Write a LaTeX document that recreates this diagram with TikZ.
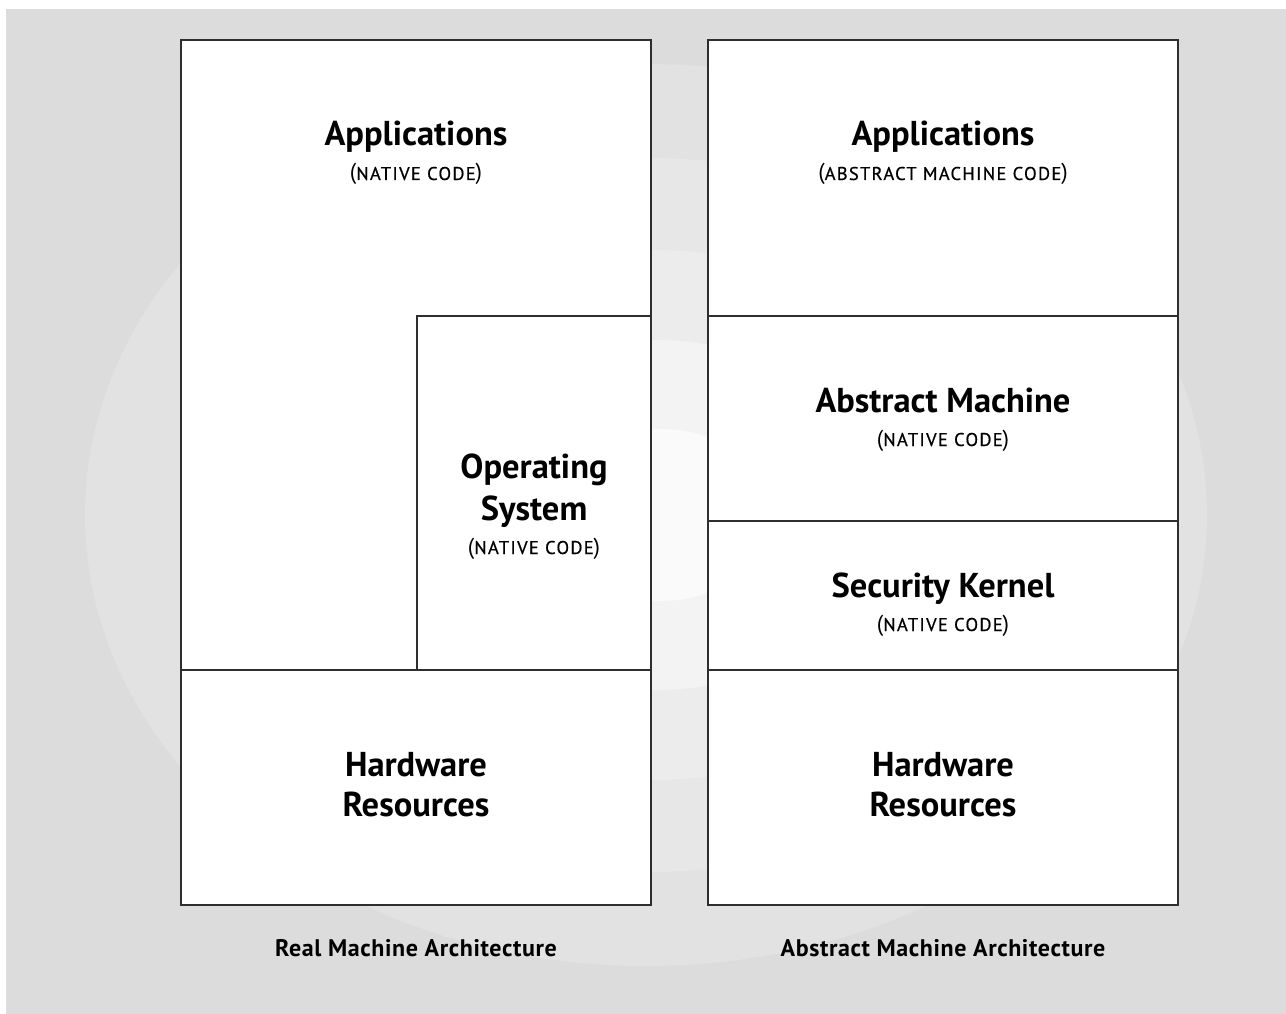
\documentclass[tikz,border=0pt]{standalone}
\usepackage{fontspec}
\setmainfont{PT Sans}
\definecolor{bgbase}{HTML}{DCDCDC}
\definecolor{ringA}{HTML}{E2E2E2}
\definecolor{ringB}{HTML}{E7E7E7}
\definecolor{ringC}{HTML}{ECECEC}
\definecolor{ringD}{HTML}{F3F3F3}
\definecolor{ringE}{HTML}{FAFAFA}
\definecolor{framecol}{HTML}{2E2E2E}
\newcommand{\subcap}[1]{{\fontsize{23}{24}\selectfont(}{\fontsize{18.5}{20}\selectfont\addfontfeatures{LetterSpace=7,FakeBold=0.6}#1}{\fontsize{23}{24}\selectfont)}}
\begin{document}
\begin{tikzpicture}[x=1pt,y=-1pt,
  frame/.style={draw=framecol,line width=1.6pt,fill=white},
  divider/.style={draw=framecol,line width=1.6pt},
  titletext/.style={anchor=base,inner sep=0pt,font=\fontsize{34.5}{40}\selectfont\bfseries},
  subtext/.style={anchor=base,inner sep=0pt},
  captext/.style={anchor=base,inner sep=0pt,font=\fontsize{24}{28}\selectfont\bfseries\addfontfeatures{LetterSpace=2.5}}]
\useasboundingbox (0,0) rectangle (1286,1014);
\fill[white] (0,0) rectangle (1286,1014);
\fill[bgbase] (6,9) rectangle (1286,1014);
\begin{scope}
  \clip (6,9) rectangle (1286,1014);
  \fill[ringA] (646,515) ellipse [x radius=561, y radius=451];
  \fill[ringB] (650,515) ellipse [x radius=444, y radius=357];
  \fill[ringC] (654,515) ellipse [x radius=330, y radius=265];
  \fill[ringD] (658,515) ellipse [x radius=218, y radius=175];
  \fill[ringE] (662,515) ellipse [x radius=107, y radius=86];
\end{scope}
% left column
\draw[frame] (181,40) rectangle (651,905);
\coordinate (lhwl) at (181,670);
\coordinate (lhwr) at (651,670);
\coordinate (osb) at (417,670);
\coordinate (ost) at (417,316);
\coordinate (osr) at (651,316);
\draw[divider] (lhwl) -- (lhwr);
\draw[divider] (osb) -- (ost) -- (osr);
% right column
\draw[frame] (708,40) rectangle (1178,905);
\foreach \yy/\nm in {316/a,521/b,670/c}{
  \coordinate (rl\nm) at (708,\yy);
  \coordinate (rr\nm) at (1178,\yy);
  \draw[divider] (rl\nm) -- (rr\nm);
}
% left texts
\node[titletext] (lapp) at (416,146) {Applications};
\node[subtext] (lappsub) at (416,180) {\subcap{NATIVE CODE}};
\node[titletext] (los1) at (534,478) {Operating};
\node[titletext] (los2) at (534,520) {System};
\node[subtext] (lossub) at (534,554) {\subcap{NATIVE CODE}};
\node[titletext] (lhw1) at (416,776) {Hardware};
\node[titletext] (lhw2) at (416,816) {Resources};
% right texts
\node[titletext] (rapp) at (943,146) {Applications};
\node[subtext] (rappsub) at (943,180) {\subcap{ABSTRACT MACHINE CODE}};
\node[titletext] (ram) at (943,412) {Abstract Machine};
\node[subtext] (ramsub) at (943,446) {\subcap{NATIVE CODE}};
\node[titletext] (rsk) at (943,597) {Security Kernel};
\node[subtext] (rsksub) at (943,631) {\subcap{NATIVE CODE}};
\node[titletext] (rhw1) at (943,776) {Hardware};
\node[titletext] (rhw2) at (943,816) {Resources};
% captions
\node[captext] (lcap) at (416,956) {Real Machine Architecture};
\node[captext] (rcap) at (943,956) {Abstract Machine Architecture};
\end{tikzpicture}
\end{document}
